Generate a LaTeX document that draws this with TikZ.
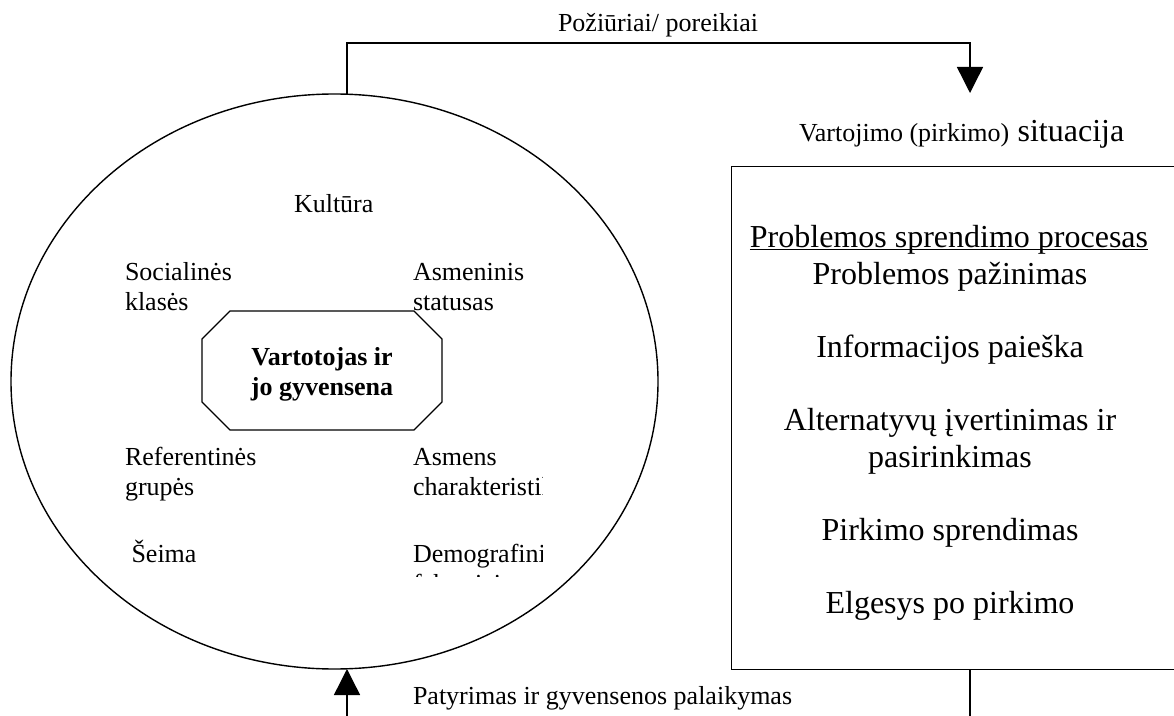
\documentclass[tikz,border=0pt]{standalone}
\usepackage{fontspec}
\setmainfont{Liberation Serif}
\usetikzlibrary{shapes.geometric,arrows.meta,calc}
\begin{document}
\begin{tikzpicture}[x=1bp,y=-1bp,
  line width=1.4bp,
  small/.style={font=\fontsize{26bp}{30bp}\selectfont, inner sep=0pt, outer sep=0pt},
  big/.style={font=\fontsize{32bp}{36.8bp}\selectfont, inner sep=0pt, outer sep=0pt, anchor=base},
  lbl/.style={small, anchor=base west},
  flow/.style={-{Triangle[width=26bp,length=26bp]}}]
\useasboundingbox (0,0) rectangle (1174,716);

% consumer and the circle of influences
\node[draw, ellipse, minimum width=647bp, minimum height=575bp, inner sep=0pt] (ell) at (334.5,381.5) {};

% octagon with the consumer in the middle
\node[minimum width=240bp, minimum height=119bp, inner sep=0pt, outer sep=0pt] (oct) at (322,370.5) {};
\draw ($(oct.north west)+(28,0)$) -- ($(oct.north east)+(-28,0)$) -- ($(oct.north east)+(0,28)$)
   -- ($(oct.south east)+(0,-28)$) -- ($(oct.south east)+(-28,0)$) -- ($(oct.south west)+(28,0)$)
   -- ($(oct.south west)+(0,-28)$) -- ($(oct.north west)+(0,28)$) -- cycle;
\node[small, align=center, font=\fontsize{26bp}{30bp}\selectfont\bfseries] (core) at (322,374) {Vartotojas ir\\jo gyvensena};

% influences, left column and top
\node[lbl] (kult) at (294,213) {Kultūra};
\node[lbl] (soc1) at (125,280) {Socialinės};
\node[lbl] (soc2) at (125,310) {klasės};
\node[lbl] (ref1) at (125,465) {Referentinės};
\node[lbl] (ref2) at (125,495) {grupės};
\node[lbl] (seima) at (131.5,562) {Šeima};

% influences, right column (text box cut off at its edges)
\begin{scope}
  \clip (405,150) rectangle (542,576);
  \node[lbl] (asm1) at (413,280) {Asmeninis};
  \node[lbl] (asm2) at (413,310) {statusas};
  \node[lbl] (chr1) at (413,465) {Asmens};
  \node[lbl] (chr2) at (413,495) {charakteristikos};
  \node[lbl] (dem1) at (413,562) {Demografiniai};
  \node[lbl] (dem2) at (413,592) {faktoriai};
\end{scope}

% situation and the decision process box
\node[lbl] (sit) at (799,142) {Vartojimo (pirkimo)\hspace{2bp} {\fontsize{32bp}{36.8bp}\selectfont situacija}};
\node[draw, minimum width=460bp, minimum height=503bp, anchor=north west] (proc) at (731,166) {};
\node[big] (hdr) at (949,247) {Problemos sprendimo procesas};
\draw[line width=1.2bp] ($(hdr.base west)+(0,2.5)$) -- ($(hdr.base east)+(0,2.5)$);
\node[big] (p1) at (950,284) {Problemos pažinimas};
\node[big] (p2) at (950,357) {Informacijos paieška};
\node[big] (p3) at (950,430) {Alternatyvų įvertinimas ir};
\node[big] (p3b) at (950,467) {pasirinkimas};
\node[big] (p4) at (950,540) {Pirkimo sprendimas};
\node[big] (p5) at (950,613) {Elgesys po pirkimo};

% feedback connectors
\coordinate (ellTop) at (347,94);
\coordinate (topRail) at (0,43);
\coordinate (sitTip) at (970,93);
\draw[flow] (ellTop) -- (ellTop |- topRail) -| (sitTip);
\node[small, anchor=base] (needs) at (658,32) {Požiūriai/ poreikiai};

\coordinate (ellBot) at (347,669);
\coordinate (botL) at (347,717);
\coordinate (botR) at (970,717);
\draw[flow] (botL) -- (ellBot);
\draw (proc.south -| botR) -- (botR);
\node[lbl] (exp) at (413,704) {Patyrimas ir gyvensenos palaikymas};
\end{tikzpicture}
\end{document}
